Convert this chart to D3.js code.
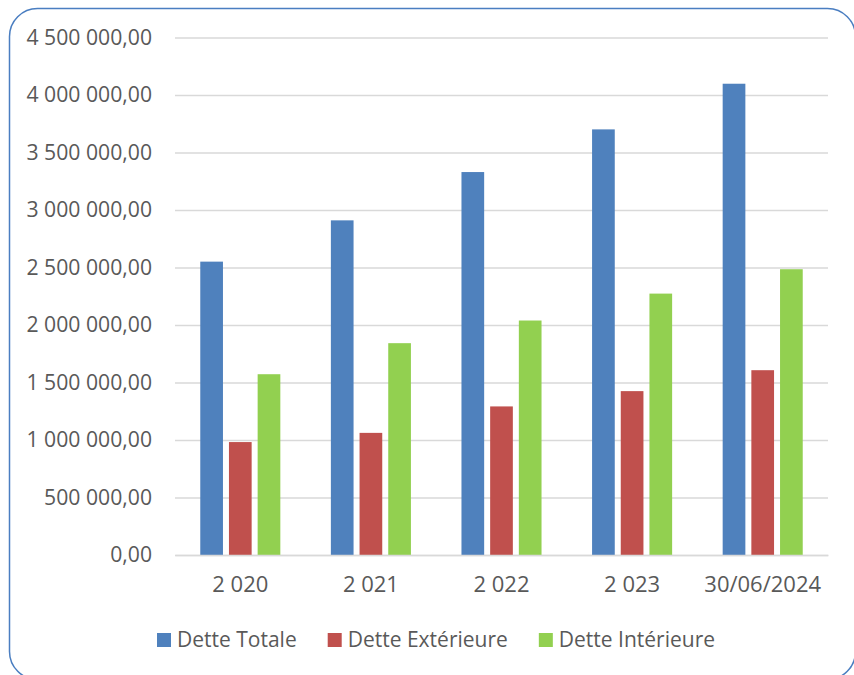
<!DOCTYPE html>
<html>
<head>
<meta charset="utf-8">
<script src="https://cdn.jsdelivr.net/npm/d3@7.9.0/dist/d3.min.js"></script>
<style>
  html, body { margin: 0; padding: 0; background: #fff; }
  svg text { font-family: 'Open Sans', sans-serif; fill: #595959; }
</style>
</head>
<body>
<svg id="chart" width="854" height="675"></svg>
<script>
const categories = ['2 020', '2 021', '2 022', '2 023', '30/06/2024'];
const seriesNames = ['Dette Totale', 'Dette Extérieure', 'Dette Intérieure'];
const detteTotale = [2551000, 2910000, 3330000, 3701000, 4098000];
const detteExterieure = [982000, 1062000, 1292000, 1425000, 1607000];
const detteInterieure = [1572000, 1842000, 2039000, 2273000, 2485000];
const yTicks = [0, 500000, 1000000, 1500000, 2000000, 2500000, 3000000, 3500000, 4000000, 4500000];

const colors = ['#4F81BD', '#C0504D', '#92D050'];
const series = [detteTotale, detteExterieure, detteInterieure];

const area = { left: 175, right: 828, top: 37.5, bottom: 555 };

const svg = d3.select('#chart');

// rounded frame
svg.append('rect')
  .attr('x', 9.5).attr('y', 8.5)
  .attr('width', 846).attr('height', 671)
  .attr('rx', 28).attr('ry', 28)
  .attr('fill', '#fff')
  .attr('stroke', '#4A7EC1')
  .attr('stroke-width', 1.5);

const fr = d3.formatLocale({ decimal: ',', thousands: '\u00a0', grouping: [3], currency: ['', ''] });
const fmt = fr.format(',.2f');

const x0 = d3.scaleBand()
  .domain(categories)
  .range([area.left, area.right])
  .paddingInner(0.387)
  .paddingOuter(0.1935);

const x1 = d3.scaleBand()
  .domain(seriesNames)
  .range([0, x0.bandwidth()])
  .paddingInner(0.209);

const y = d3.scaleLinear().domain([0, 4500000]).range([area.bottom, area.top]);

// gridlines
svg.append('g')
  .attr('class', 'gridlines')
  .attr('transform', `translate(${area.left}, 0)`)
  .call(d3.axisLeft(y).tickValues(yTicks).tickFormat('').tickSize(-(area.right - area.left)))
  .call((g) => g.select('.domain').remove())
  .call((g) => g.selectAll('line').attr('stroke', '#D9D9D9').attr('stroke-width', 1.5));

// y labels
svg.append('g')
  .attr('transform', `translate(${area.left}, 0)`)
  .call(d3.axisLeft(y).tickValues(yTicks).tickFormat(fmt).tickSize(0).tickPadding(23))
  .call((g) => g.select('.domain').remove())
  .call((g) => g.selectAll('text').attr('font-size', 21.2).attr('fill', '#595959').style('font-family', null));

// bars
const groups = svg.append('g')
  .selectAll('g')
  .data(categories)
  .join('g')
  .attr('transform', (d) => `translate(${x0(d)}, 0)`);

groups.selectAll('rect')
  .data((d, i) => seriesNames.map((s, j) => ({ s, j, v: series[j][i] })))
  .join('rect')
  .attr('x', (d) => x1(d.s))
  .attr('y', (d) => y(d.v))
  .attr('width', x1.bandwidth())
  .attr('height', (d) => y(0) - y(d.v))
  .attr('fill', (d) => colors[d.j]);

// x axis
svg.append('g')
  .attr('transform', `translate(0, ${area.bottom})`)
  .call(d3.axisBottom(x0).tickSize(0).tickPadding(21))
  .call((g) => g.select('.domain').attr('stroke', '#D9D9D9').attr('stroke-width', 1.5))
  .call((g) => g.selectAll('text').attr('font-size', 22).attr('fill', '#595959').style('font-family', null));

// legend
const legend = svg.append('g').attr('transform', 'translate(0, 640)');
let lx = 157;
seriesNames.forEach((name, i) => {
  const item = legend.append('g').attr('transform', `translate(${lx}, 0)`);
  item.append('rect').attr('x', 0).attr('y', -7).attr('width', 14).attr('height', 14).attr('fill', colors[i]);
  const t = item.append('text')
    .attr('x', 20).attr('dy', '0.35em')
    .attr('font-size', 21)
    .text(name);
  lx += 20 + t.node().getComputedTextLength() + 31;
});
</script>
</body>
</html>
